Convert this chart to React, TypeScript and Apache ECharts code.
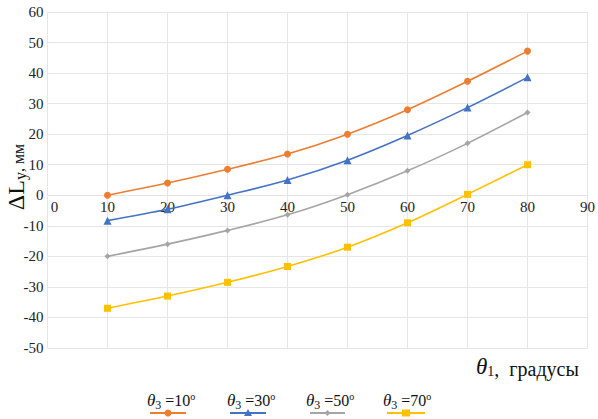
import React, { useEffect, useRef } from "react";
import * as echarts from "echarts";

const xValues = [10, 20, 30, 40, 50, 60, 70, 80];
const seriesNames = ["θ3=10", "θ3=30", "θ3=50", "θ3=70"];
const legendAngles = ["10", "30", "50", "70"];
const s10 = [0, 4, 8.5, 13.5, 20, 28, 37.3, 47.2];
const s30 = [-8.3, -4.6, 0, 5, 11.5, 19.6, 28.7, 38.6];
const s50 = [-20, -16, -11.5, -6.4, 0.2, 8, 17, 27.1];
const s70 = [-37, -33, -28.5, -23.3, -17, -9, 0.3, 10];
const colors = ["#ED7D31", "#4472C4", "#A5A5A5", "#FFC000"];
const symbols = ["circle", "triangle", "diamond", "rect"];
const symbolSizes = [7, 8, 6, 7];
const yMin = -50;
const yMax = 60;

const SERIF = "Liberation Serif";

export default function App() {
  const ref = useRef<HTMLDivElement>(null);
  useEffect(() => {
    if (!ref.current) return;
    const chart = echarts.init(ref.current, undefined, { renderer: "svg" });
    const all = [s10, s30, s50, s70];
    const series = all.map((vals, i) => ({
      name: seriesNames[i],
      type: "line",
      smooth: 0.3,
      data: vals.map((v, j) => [xValues[j], v]),
      symbol: symbols[i],
      symbolSize: symbolSizes[i],
      showSymbol: true,
      lineStyle: { color: colors[i], width: 1.6 },
      itemStyle: { color: colors[i] },
    }));

    const gridTop = 12;
    const gridBottom = 71;
    const plotH = 419 - gridTop - gridBottom;
    const zeroOffset = -(plotH * (0 - yMin)) / (yMax - yMin);

    const legendX = [147, 227, 306, 383];
    const legendIcon = [
      [150, 186],
      [230, 266],
      [310, 345],
      [387, 425],
    ];
    const graphics: any[] = [];
    legendAngles.forEach((a, i) => {
      graphics.push({
        type: "text",
        left: legendX[i],
        top: 391,
        style: {
          text: `{t|θ}{s|3}{n| =${a}}{o|o}`,
          fill: "#111",
          rich: {
            t: { fontFamily: SERIF, fontStyle: "italic", fontSize: 17, fill: "#111" },
            s: { fontFamily: SERIF, fontSize: 12, fill: "#111", padding: [9, 0, 0, 0] },
            n: { fontFamily: SERIF, fontSize: 16, fill: "#111" },
            o: { fontFamily: SERIF, fontSize: 10, fill: "#111", padding: [0, 0, 8, 0] },
          },
        },
      });
      const [x1, x2] = legendIcon[i];
      const ym = 413;
      graphics.push({
        type: "line",
        shape: { x1, y1: ym, x2, y2: ym },
        style: { stroke: colors[i], lineWidth: 2 },
      });
      const cx = (x1 + x2) / 2;
      if (symbols[i] === "circle") {
        graphics.push({ type: "circle", shape: { cx, cy: ym, r: 3.5 }, style: { fill: colors[i] } });
      } else if (symbols[i] === "triangle") {
        graphics.push({
          type: "polygon",
          shape: { points: [[cx, ym - 4], [cx - 4, ym + 3], [cx + 4, ym + 3]] },
          style: { fill: colors[i] },
        });
      } else if (symbols[i] === "diamond") {
        graphics.push({
          type: "polygon",
          shape: { points: [[cx, ym - 3], [cx - 3, ym], [cx, ym + 3], [cx + 3, ym]] },
          style: { fill: colors[i] },
        });
      } else {
        graphics.push({ type: "rect", shape: { x: cx - 4, y: ym - 3.5, width: 8, height: 7 }, style: { fill: colors[i] } });
      }
    });

    graphics.push({
      type: "text",
      left: 476,
      top: 355,
      style: {
        text: "{t|θ}{s|1}{n|,  градусы}",
        rich: {
          t: { fontFamily: SERIF, fontStyle: "italic", fontSize: 23, fill: "#111" },
          s: { fontFamily: SERIF, fontSize: 14, fill: "#111", padding: [10, 0, 0, 0] },
          n: { fontFamily: SERIF, fontSize: 20, fill: "#111", padding: [4, 0, 0, 0] },
        },
      },
    });

    graphics.push({
      type: "text",
      x: 16,
      y: 177,
      rotation: Math.PI / 2,
      style: {
        text: "{t|ΔL}{s|y}{n|, мм}",
        align: "center",
        verticalAlign: "middle",
        rich: {
          t: { fontFamily: SERIF, fontSize: 24, fill: "#111" },
          s: { fontFamily: SERIF, fontSize: 16, fill: "#111", padding: [9, 0, 0, 0] },
          n: { fontFamily: SERIF, fontSize: 16, fill: "#111", padding: [5, 0, 0, 0] },
        },
      },
    });

    chart.setOption({
      animation: false,
      backgroundColor: "#ffffff",
      grid: { left: 47.5, right: 5, top: gridTop, bottom: gridBottom, containLabel: false },
      xAxis: {
        type: "value",
        min: 0,
        max: 90,
        interval: 10,
        offset: zeroOffset,
        axisLine: { show: true, onZero: false, lineStyle: { color: "#e4e4e4", width: 1 } },
        axisTick: { show: false },
        splitLine: { show: true, lineStyle: { color: "#e6e6e6", width: 1 } },
        axisLabel: {
          margin: 4,
          fontFamily: SERIF,
          fontSize: 15,
          color: "#222",
          formatter: (v: number) => (v === 0 ? "{z|0}" : String(v)),
          rich: { z: { fontFamily: SERIF, fontSize: 15, color: "#222", padding: [0, 0, 0, 14] } },
        },
      },
      yAxis: {
        type: "value",
        min: yMin,
        max: yMax,
        interval: 10,
        axisLine: { show: false, onZero: false },
        axisTick: { show: false },
        splitLine: { show: true, lineStyle: { color: "#e6e6e6", width: 1 } },
        axisLabel: { margin: 4, fontFamily: SERIF, fontSize: 15, color: "#222" },
      },
      series,
      graphic: graphics,
    });
    return () => chart.dispose();
  }, []);
  return <div ref={ref} style={{ width: 598, height: 419, position: "absolute", left: 0, top: 0 }} />;
}
